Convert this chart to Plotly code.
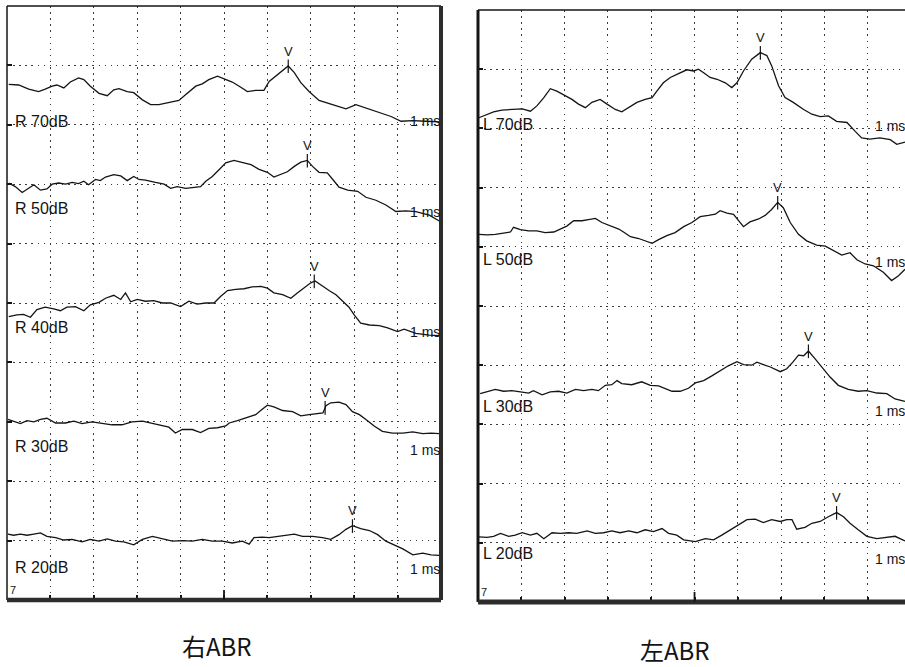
import plotly.graph_objects as go

# ---------------- data (x: latency in ms, y: position in grid divisions) -------------
R70_t = [0.04,0.27,0.5,0.73,0.88,1.04,1.15,1.31,1.46,1.65,1.77,1.92,2.12,2.31,2.46,2.58,2.77,2.92,3.12,3.31,3.5,3.73,3.96,4.12,4.35,4.5,4.65,4.85,5.04,5.19,5.35,5.54,5.73,5.92,6.04,6.19,6.35,6.48,6.62,6.77,6.96,7.19,7.5,7.81,8.04,8.27,8.58,8.85,9.08,9.35,9.65,9.96]
R70_v = [8.68,8.67,8.60,8.56,8.60,8.65,8.67,8.62,8.72,8.79,8.76,8.65,8.53,8.49,8.59,8.61,8.56,8.54,8.42,8.34,8.34,8.38,8.41,8.51,8.65,8.69,8.76,8.82,8.76,8.72,8.65,8.56,8.58,8.58,8.73,8.82,8.90,8.99,8.88,8.71,8.56,8.41,8.34,8.27,8.34,8.28,8.20,8.14,8.06,8.07,8.06,8.05]

R50_t = [0.04,0.19,0.35,0.5,0.62,0.77,0.92,1.04,1.19,1.35,1.5,1.65,1.77,1.88,2.04,2.15,2.27,2.46,2.62,2.77,2.92,3.04,3.19,3.42,3.62,3.77,3.92,4.12,4.31,4.46,4.58,4.73,4.88,5.04,5.23,5.42,5.62,5.81,6.0,6.15,6.31,6.46,6.62,6.77,6.92,7.04,7.19,7.38,7.54,7.65,7.85,8.08,8.27,8.5,8.73,8.96,9.19,9.42,9.73,9.96]
R50_v = [7.02,6.96,6.86,6.93,6.99,6.90,6.92,7.00,7.02,7.00,7.03,7.01,7.05,6.99,7.08,7.06,7.12,7.16,7.14,7.06,7.13,7.08,7.07,7.03,7.00,6.93,6.96,6.93,6.95,6.96,7.05,7.13,7.24,7.36,7.40,7.36,7.33,7.25,7.20,7.12,7.16,7.21,7.30,7.37,7.40,7.30,7.20,7.19,7.05,6.95,6.90,6.88,6.78,6.73,6.65,6.54,6.55,6.54,6.48,6.38]

R40_t = [0.04,0.23,0.38,0.54,0.69,0.88,1.08,1.23,1.38,1.58,1.77,1.92,2.12,2.27,2.46,2.62,2.73,2.85,3.0,3.19,3.38,3.58,3.77,4.0,4.19,4.38,4.58,4.77,4.92,5.08,5.27,5.46,5.65,5.85,6.0,6.15,6.35,6.54,6.69,6.85,7.0,7.1,7.27,7.42,7.58,7.73,7.88,8.0,8.15,8.35,8.58,8.77,9.0,9.15,9.42,9.73,9.96]
R40_v = [4.77,4.80,4.81,4.76,4.89,4.93,4.90,4.87,4.93,4.94,4.87,4.97,5.01,5.08,5.13,5.06,5.17,5.02,5.06,5.03,5.04,5.00,5.00,4.94,5.03,4.98,5.00,5.00,5.11,5.21,5.23,5.24,5.27,5.28,5.25,5.17,5.14,5.08,5.17,5.25,5.34,5.37,5.28,5.21,5.14,5.03,4.93,4.80,4.66,4.63,4.62,4.58,4.52,4.56,4.49,4.46,4.45]

R30_t = [0.02,0.15,0.31,0.46,0.62,0.77,0.92,1.12,1.35,1.54,1.73,1.96,2.19,2.42,2.65,2.88,3.12,3.35,3.58,3.73,3.88,4.04,4.27,4.46,4.65,4.85,5.04,5.12,5.31,5.54,5.73,5.88,6.0,6.15,6.35,6.58,6.77,6.96,7.15,7.28,7.35,7.46,7.65,7.81,7.96,8.12,8.27,8.46,8.65,8.88,9.12,9.35,9.58,9.77,9.96]
R30_v = [3.04,3.01,2.97,3.02,3.00,3.04,3.06,2.98,2.98,3.01,2.97,3.00,2.97,2.95,2.95,3.00,3.01,2.97,2.93,2.91,2.81,2.87,2.87,2.82,2.89,2.90,2.93,2.98,3.02,3.07,3.12,3.21,3.28,3.25,3.19,3.17,3.10,3.12,3.14,3.15,3.27,3.32,3.33,3.29,3.17,3.12,3.04,2.93,2.84,2.81,2.81,2.83,2.80,2.81,2.80]

R20_t = [0.02,0.15,0.31,0.46,0.62,0.77,0.92,1.12,1.31,1.5,1.73,1.92,2.12,2.31,2.5,2.69,2.92,3.12,3.35,3.58,3.81,4.04,4.27,4.5,4.73,4.96,5.19,5.42,5.58,5.69,5.88,6.04,6.23,6.42,6.62,6.81,7.04,7.27,7.46,7.65,7.81,7.96,8.15,8.35,8.54,8.73,8.92,9.12,9.35,9.58,9.77,9.96]
R20_v = [1.11,1.09,1.11,1.09,1.11,1.13,1.07,1.05,1.01,1.02,0.98,1.02,0.99,1.03,0.99,0.98,0.93,1.02,1.07,1.03,0.99,1.00,0.99,1.02,0.99,0.99,0.96,0.99,0.94,1.05,1.06,1.05,1.07,1.10,1.11,1.07,1.07,1.05,1.02,1.10,1.19,1.25,1.20,1.17,1.10,0.99,0.93,0.86,0.76,0.79,0.76,0.75]

L70_t = [0.02,0.17,0.36,0.55,0.71,0.86,1.02,1.21,1.36,1.52,1.67,1.82,2.02,2.17,2.32,2.48,2.63,2.82,2.98,3.17,3.32,3.48,3.67,3.86,4.02,4.13,4.28,4.44,4.63,4.82,4.98,5.09,5.21,5.36,5.52,5.71,5.86,5.98,6.13,6.32,6.52,6.67,6.78,6.94,7.09,7.28,7.52,7.71,7.9,8.09,8.28,8.52,8.71,8.86,9.05,9.28,9.52,9.67,9.86]
L70_v = [8.18,8.22,8.28,8.31,8.32,8.33,8.33,8.29,8.38,8.52,8.67,8.63,8.55,8.49,8.41,8.35,8.44,8.49,8.41,8.32,8.28,8.35,8.44,8.49,8.52,8.63,8.77,8.86,8.92,8.99,8.97,9.00,8.94,8.86,8.83,8.77,8.69,8.77,8.97,9.17,9.28,9.23,9.06,8.72,8.52,8.44,8.32,8.24,8.20,8.21,8.12,8.10,7.95,7.84,7.82,7.84,7.81,7.73,7.77]

L50_t = [0.02,0.21,0.4,0.59,0.75,0.82,0.98,1.17,1.36,1.55,1.75,1.9,2.05,2.21,2.4,2.55,2.71,2.86,3.05,3.25,3.36,3.52,3.71,3.86,4.02,4.17,4.36,4.55,4.75,4.94,5.13,5.32,5.48,5.59,5.75,5.9,6.02,6.13,6.28,6.48,6.63,6.78,6.92,7.05,7.21,7.4,7.59,7.82,8.02,8.21,8.4,8.59,8.75,8.94,9.13,9.36,9.55,9.71,9.86]
L50_v = [6.21,6.20,6.21,6.23,6.25,6.33,6.29,6.27,6.27,6.24,6.25,6.30,6.35,6.44,6.44,6.46,6.48,6.41,6.35,6.30,6.25,6.17,6.14,6.10,6.06,6.12,6.19,6.24,6.34,6.41,6.51,6.53,6.55,6.61,6.57,6.55,6.44,6.34,6.42,6.47,6.53,6.63,6.75,6.66,6.41,6.21,6.10,6.03,6.01,5.93,5.86,5.90,5.78,5.71,5.68,5.57,5.43,5.51,5.62]

L30_t = [0.05,0.21,0.4,0.59,0.78,0.98,1.17,1.28,1.48,1.67,1.86,2.05,2.25,2.44,2.63,2.78,2.94,3.09,3.21,3.32,3.55,3.78,3.98,4.17,4.32,4.48,4.67,4.86,5.02,5.21,5.4,5.59,5.78,5.98,6.13,6.32,6.44,6.59,6.75,6.98,7.13,7.28,7.4,7.52,7.63,7.78,7.94,8.13,8.32,8.55,8.78,8.98,9.21,9.44,9.63,9.86]
L30_v = [3.52,3.55,3.59,3.56,3.57,3.55,3.53,3.57,3.50,3.55,3.56,3.53,3.59,3.57,3.59,3.57,3.66,3.67,3.74,3.69,3.67,3.72,3.66,3.65,3.60,3.56,3.56,3.61,3.70,3.74,3.82,3.91,3.99,4.06,4.01,4.00,4.05,4.01,3.97,3.89,3.94,4.06,4.17,4.16,4.24,4.11,3.97,3.80,3.66,3.59,3.56,3.57,3.53,3.52,3.43,3.39]

L20_t = [0.02,0.21,0.36,0.52,0.71,0.86,1.02,1.21,1.36,1.52,1.71,1.9,2.09,2.28,2.52,2.71,2.9,3.09,3.28,3.48,3.67,3.86,4.05,4.25,4.4,4.59,4.75,5.02,5.25,5.44,5.63,5.82,6.02,6.21,6.4,6.59,6.78,6.98,7.13,7.25,7.36,7.55,7.71,7.9,8.09,8.28,8.44,8.59,8.78,8.98,9.21,9.44,9.63,9.86]
L20_v = [1.10,1.09,1.11,1.16,1.11,1.13,1.17,1.13,1.16,1.07,1.17,1.16,1.17,1.16,1.20,1.16,1.17,1.20,1.17,1.20,1.17,1.22,1.19,1.24,1.16,1.13,1.05,1.02,1.07,1.05,1.13,1.22,1.30,1.39,1.40,1.34,1.39,1.36,1.39,1.39,1.23,1.26,1.33,1.36,1.44,1.51,1.44,1.33,1.22,1.11,1.07,1.09,1.11,1.03]

R_labels = ["R 70dB", "R 50dB", "R 40dB", "R 30dB", "R 20dB"]
R_V_lat = [6.48, 6.92, 7.08, 7.33, 7.96]
R_V_amp = [8.99, 7.40, 5.37, 3.24, 1.25]

L_labels = ["L 70dB", "L 50dB", "L 30dB", "L 20dB"]
L_V_lat = [6.52, 6.92, 7.63, 8.28]
L_V_amp = [9.28, 6.75, 4.24, 1.51]

panel_titles = ["右ABR", "左ABR"]
scale_label = "1 ms"

# ---------------- layout parameters -------------
R_label_y = [8.06, 6.59, 4.58, 2.59, 0.54]
R_ms_y = [8.06, 6.54, 4.52, 2.53, 0.53]
L_label_y = [8.07, 5.78, 3.31, 0.82]
L_ms_y = [8.04, 5.74, 3.23, 0.73]

W, H = 905, 667
INK = "#141414"
LABEL_FONT = dict(family="Liberation Sans, Arial, sans-serif", size=16, color=INK)
MS_FONT = dict(family="Liberation Sans, Arial, sans-serif", size=14, color=INK)
V_FONT = dict(family="Liberation Sans, Arial, sans-serif", size=13, color=INK)
TITLE_FONT = dict(family="Noto Sans CJK SC", size=24, color=INK)

fig = go.Figure()

R_series = [(R70_t, R70_v), (R50_t, R50_v), (R40_t, R40_v), (R30_t, R30_v), (R20_t, R20_v)]
L_series = [(L70_t, L70_v), (L50_t, L50_v), (L30_t, L30_v), (L20_t, L20_v)]

annotations = []


def add_panel(series, labels, vlat, vamp, label_y, ms_y, xa, ya, label_x, ms_x):
    for (t, v), lab, lat, amp, ly, my in zip(series, labels, vlat, vamp, label_y, ms_y):
        fig.add_trace(go.Scatter(x=t, y=v, mode="lines", xaxis=xa, yaxis=ya,
                                 line=dict(color=INK, width=1.3), hoverinfo="skip",
                                 showlegend=False))
        fig.add_trace(go.Scatter(x=[lat, lat], y=[amp - 0.12, amp + 0.11], mode="lines",
                                 xaxis=xa, yaxis=ya, line=dict(color=INK, width=1.2),
                                 hoverinfo="skip", showlegend=False))
        annotations.append(dict(x=lat, y=amp + 0.25, xref=xa, yref=ya, text="V",
                                showarrow=False, font=V_FONT, xanchor="center", yanchor="middle"))
        annotations.append(dict(x=label_x, y=ly, xref=xa, yref=ya, text=lab, showarrow=False,
                                font=LABEL_FONT, xanchor="left", yanchor="middle"))
        annotations.append(dict(x=ms_x, y=my, xref=xa, yref=ya, text=scale_label, showarrow=False,
                                font=MS_FONT, xanchor="left", yanchor="middle"))
    annotations.append(dict(x=0.03, y=0.17, xref=xa, yref=ya, text="7", showarrow=False,
                            font=dict(family="Liberation Sans, Arial", size=11, color=INK),
                            xanchor="left", yanchor="middle"))


add_panel(R_series, R_labels, R_V_lat, R_V_amp, R_label_y, R_ms_y, "x", "y", 0.13, 9.24)
add_panel(L_series, L_labels, L_V_lat, L_V_amp, L_label_y, L_ms_y, "x2", "y2", 0.06, 9.12)


def axis(domain, rng, anchor):
    return dict(domain=domain, range=rng, anchor=anchor, showgrid=True, dtick=1, tick0=0,
                gridcolor="#3a3a3a", griddash="1.5px,4.6px", gridwidth=1.1,
                zeroline=False, showticklabels=False, ticks="inside", ticklen=5,
                tickwidth=1.5, tickcolor=INK, showline=False, fixedrange=True)


L_dom_x = [7 / W, 441 / W]
L_dom_y = [1 - 600 / H, 1 - 6 / H]
R_dom_x = [478 / W, 1.0]
R_dom_y = [1 - 602 / H, 1 - 10 / H]

shapes = []


def frame(xd, yd, xa, top_w, left_w, right_w, bottom_w, show_right=True):
    shapes.append(dict(type="line", xref=xd, yref=yd, x0=0, x1=1, y0=1, y1=1,
                       line=dict(color=INK, width=top_w)))
    shapes.append(dict(type="line", xref=xd, yref=yd, x0=0, x1=0, y0=0, y1=1,
                       line=dict(color=INK, width=left_w)))
    if show_right:
        shapes.append(dict(type="line", xref=xd, yref=yd, x0=1, x1=1, y0=0, y1=1,
                           line=dict(color="#2c2c2c", width=right_w)))
    shapes.append(dict(type="line", xref=xd, yref=yd, x0=0, x1=1, y0=0, y1=0,
                       line=dict(color="#2c2c2c", width=bottom_w)))
    # longer major tick at 5 ms
    shapes.append(dict(type="line", xref=xa, yref=yd, x0=5, x1=5, y0=0, y1=0.017,
                       line=dict(color=INK, width=1.8)))


frame("x domain", "y domain", "x", 1.5, 1.5, 4, 4.5)
frame("x2 domain", "y2 domain", "x2", 1.5, 3, 0, 5, show_right=False)

annotations.append(dict(x=217 / W, y=1 - 645 / H, xref="paper", yref="paper", text=panel_titles[0],
                        showarrow=False, font=TITLE_FONT, xanchor="center", yanchor="middle"))
annotations.append(dict(x=675 / W, y=1 - 649 / H, xref="paper", yref="paper", text=panel_titles[1],
                        showarrow=False, font=TITLE_FONT, xanchor="center", yanchor="middle"))

fig.update_layout(
    width=W, height=H, margin=dict(l=0, r=0, t=0, b=0),
    paper_bgcolor="white", plot_bgcolor="white", showlegend=False,
    xaxis=axis(L_dom_x, [0, 10], "y"), yaxis=axis(L_dom_y, [0, 10], "x"),
    xaxis2=axis(R_dom_x, [0, 9.86], "y2"), yaxis2=axis(R_dom_y, [0, 10], "x2"),
    shapes=shapes, annotations=annotations,
)

fig.write_html("out.html", config={"displayModeBar": False},
               post_script="document.body.style.margin='0';document.body.style.overflow='hidden';")
